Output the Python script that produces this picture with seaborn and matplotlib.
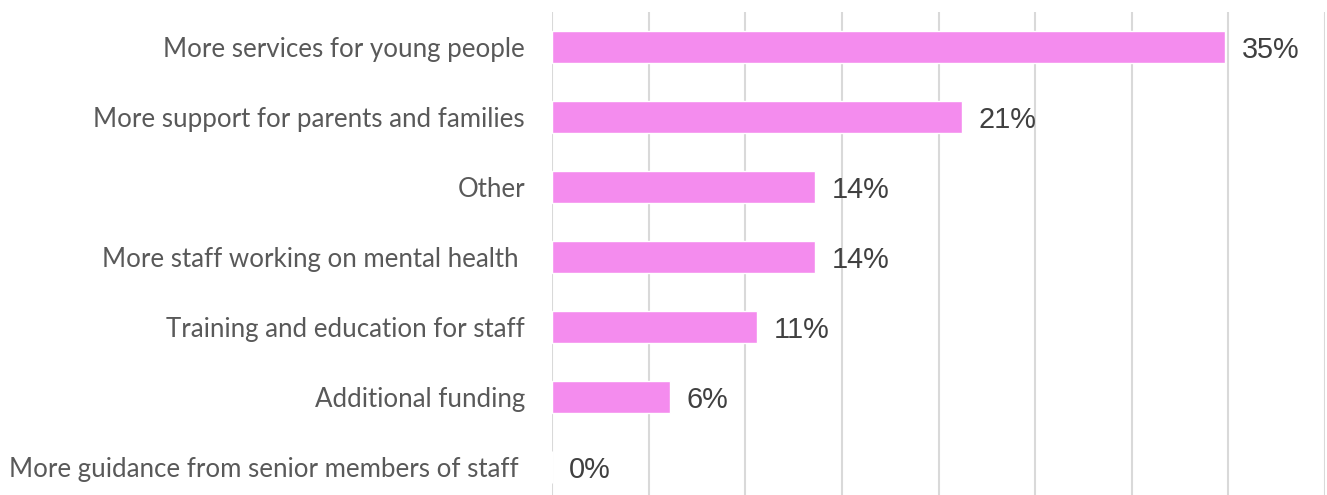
import pandas as pd
import matplotlib.pyplot as plt
import seaborn as sns

# Dữ liệu
categories = [
    'More services for young people',
    'More support for parents and families',
    'Other',
    'More staff working on mental health ',
    'Training and education for staff',
    'Additional funding',
    'More guidance from senior members of staff ',
]
values = [34.8, 21.2, 13.6, 13.6, 10.6, 6.1, 0.0]
value_labels = ['35%', '21%', '14%', '14%', '11%', '6%', '0%']

df = pd.DataFrame({'category': categories, 'value': values})

sns.set_style('white')
fig = plt.figure(figsize=(13.27, 4.95), dpi=100)
ax = fig.add_axes([552 / 1327, 0, (1325 - 552) / 1327, (495 - 12) / 495])

sns.barplot(data=df, y='category', x='value', orient='h', color='#f48cee',
            saturation=1, width=0.46, ax=ax)

ax.set_xlim(0, 40)
ax.set_ylim(6.4, -0.5)
ax.set_xticks(range(0, 41, 5))
ax.xaxis.grid(True, color='#d9d9d9', linewidth=1.5)
ax.set_axisbelow(True)
ax.tick_params(axis='x', labelbottom=False, length=0)
ax.tick_params(axis='y', length=0, pad=19.5)
for lab in ax.get_yticklabels():
    lab.set_fontfamily('Lato')
    lab.set_fontsize(18.6)
    lab.set_color('#595959')
for s in ax.spines.values():
    s.set_visible(False)
ax.set_xlabel('')
ax.set_ylabel('')

for i, (v, t) in enumerate(zip(values, value_labels)):
    ax.annotate(t, xy=(v, i), xytext=(17, -3), textcoords='offset pixels',
                va='center', ha='left', fontsize=20.8, color='#404040',
                family='Liberation Sans')

fig.savefig('out.png', dpi=100)
